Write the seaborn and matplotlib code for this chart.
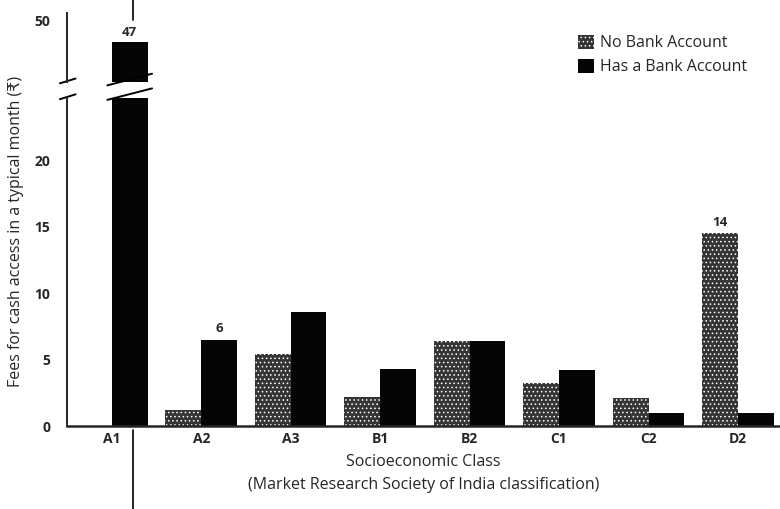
import pandas as pd
import matplotlib.pyplot as plt
import matplotlib.patches as mpatches
from matplotlib.lines import Line2D
from matplotlib.transforms import blended_transform_factory
import seaborn as sns

classes = ["A1", "A2", "A3", "B1", "B2", "C1", "C2", "D2"]
no_bank = [0, 1.2, 5.4, 2.2, 6.4, 3.2, 2.1, 14.5]
has_bank = [47, 6.5, 8.6, 4.3, 6.4, 4.2, 1.0, 1.0]
groups = ["No Bank Account", "Has a Bank Account"]

df = pd.DataFrame({
    "cls": classes * 2,
    "fee": no_bank + has_bank,
    "acct": [groups[0]] * len(classes) + [groups[1]] * len(classes),
})

sns.set_style("white")
plt.rcParams["font.family"] = ["Open Sans", "DejaVu Sans"]
plt.rcParams["hatch.color"] = "#c8c8c8"
plt.rcParams["hatch.linewidth"] = 0.6

fig = plt.figure(figsize=(7.8, 5.09), dpi=100)
ax_top = fig.add_axes([0.086, 0.839, 0.914, 0.135])
ax = fig.add_axes([0.086, 0.163, 0.914, 0.644])

colors = {groups[0]: "#353535", groups[1]: "#050505"}
for a in (ax_top, ax):
    sns.barplot(data=df, x="cls", y="fee", hue="acct", order=classes, hue_order=groups,
                palette=colors, width=0.8, gap=0, ax=a, legend=False, linewidth=0)
    for p in a.containers[0]:
        p.set_hatch("....")
    a.set_xlim(-0.5, 7.47)
    a.tick_params(length=0)
    sns.despine(ax=a, top=True, right=True)

ax.set_ylim(0, 24.66)
ax.set_yticks([0, 5, 10, 15, 20])
ax_top.set_ylim(41.3, 51)
ax_top.set_yticks([50])
ax_top.set_xticks([])
ax_top.spines["bottom"].set_visible(False)
ax_top.set_xlabel("")
ax_top.set_ylabel("")
ax.spines["left"].set_linewidth(1.4)
ax_top.spines["left"].set_linewidth(1.4)
ax.spines["bottom"].set_linewidth(1.8)

for a in (ax_top, ax):
    for lab in a.get_yticklabels():
        lab.set_fontsize(10)
        lab.set_fontweight("bold")
    a.tick_params(axis="y", pad=12)
for lab in ax.get_xticklabels():
    lab.set_fontsize(10)
    lab.set_fontweight("bold")
ax.tick_params(axis="x", pad=4)

# value labels
ax_top.bar_label(ax_top.containers[1], labels=["47"] + [""] * 7, fontsize=9.5,
                 fontweight="bold", padding=2)
ax.bar_label(ax.containers[1], labels=["", "6"] + [""] * 6, fontsize=9.5,
             fontweight="bold", padding=3)
ax.bar_label(ax.containers[0], labels=[""] * 7 + ["14"], fontsize=9.5,
             fontweight="bold", padding=3)

ax.set_ylabel("")
ax.set_xlabel("Socioeconomic Class\n(Market Research Society of India classification)",
              fontsize=11.5, labelpad=6, linespacing=1.55, fontweight="medium")
fig.text(0.02, 0.546, "Fees for cash access in a typical month (₹)", rotation=90,
         ha="center", va="center", fontsize=11.5, fontweight="medium")

# axis break marks
kw = dict(color="black", lw=1.4, clip_on=False)
tr_top = blended_transform_factory(ax_top.transAxes, ax_top.transAxes)
tr_bot = blended_transform_factory(ax.transAxes, ax.transAxes)
ax_top.plot([-0.01, 0.012], [-0.02, 0.05], transform=tr_top, **kw)
ax.plot([-0.01, 0.012], [0.997, 1.012], transform=tr_bot, **kw)
trd_top = blended_transform_factory(ax_top.transData, ax_top.transAxes)
trd_bot = blended_transform_factory(ax.transData, ax.transAxes)
ax_top.plot([-0.05, 0.45], [-0.05, 0.12], transform=trd_top, **kw)
ax.plot([-0.05, 0.45], [0.995, 1.03], transform=trd_bot, **kw)

# scan fold line
fig.add_artist(Line2D([0.171, 0.171], [0.96, 1.0], color="black", lw=1.2))
fig.add_artist(Line2D([0.171, 0.171], [0.0, 0.155], color="black", lw=1.2))

handles = [mpatches.Patch(facecolor=colors[groups[0]], hatch="....", linewidth=0),
           mpatches.Patch(facecolor=colors[groups[1]], linewidth=0)]
fig.legend(handles, groups, loc="upper left", bbox_to_anchor=(0.722, 0.96), frameon=False,
           handlelength=1.0, handleheight=1.0, handletextpad=0.4,
           labelspacing=0.45, prop={"weight": "medium", "size": 11.5})

fig.savefig("out.png", dpi=100)
